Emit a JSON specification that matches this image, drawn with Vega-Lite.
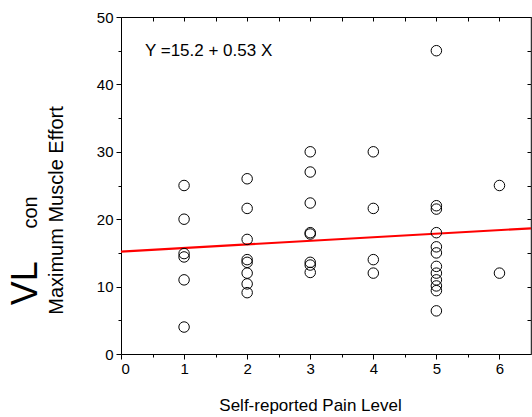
{
  "$schema": "https://vega.github.io/schema/vega-lite/v6.json",
  "width": 410,
  "height": 337,
  "autosize": {"type": "none"},
  "padding": {"left": 121, "top": 17, "right": 1, "bottom": 63},
  "background": "white",
  "config": {
    "view": {"stroke": null},
    "font": "Liberation Sans",
    "axis": {
      "labelFont": "Liberation Sans",
      "titleFont": "Liberation Sans",
      "labelColor": "black",
      "titleColor": "black",
      "domainColor": "black",
      "tickColor": "black",
      "grid": false,
      "labelFontSize": 15,
      "titleFontSize": 17,
      "titleFontWeight": "normal"
    }
  },
  "datasets": {
    "pts": [
      {"pain": 1, "effort": 25.0}, {"pain": 1, "effort": 20.0}, {"pain": 1, "effort": 14.9}, {"pain": 1, "effort": 14.4}, {"pain": 1, "effort": 11.0}, {"pain": 1, "effort": 4.0},
      {"pain": 2, "effort": 26.0}, {"pain": 2, "effort": 21.6}, {"pain": 2, "effort": 17.0}, {"pain": 2, "effort": 14.0}, {"pain": 2, "effort": 13.6}, {"pain": 2, "effort": 12.0}, {"pain": 2, "effort": 10.4}, {"pain": 2, "effort": 9.1},
      {"pain": 3, "effort": 30.0}, {"pain": 3, "effort": 27.0}, {"pain": 3, "effort": 22.4}, {"pain": 3, "effort": 18.0}, {"pain": 3, "effort": 17.8}, {"pain": 3, "effort": 13.6}, {"pain": 3, "effort": 13.2}, {"pain": 3, "effort": 12.1},
      {"pain": 4, "effort": 30.0}, {"pain": 4, "effort": 21.6}, {"pain": 4, "effort": 14.0}, {"pain": 4, "effort": 12.0},
      {"pain": 5, "effort": 45.0}, {"pain": 5, "effort": 22.0}, {"pain": 5, "effort": 21.5}, {"pain": 5, "effort": 18.0}, {"pain": 5, "effort": 15.9}, {"pain": 5, "effort": 15.0}, {"pain": 5, "effort": 13.0}, {"pain": 5, "effort": 12.0}, {"pain": 5, "effort": 11.0}, {"pain": 5, "effort": 10.1}, {"pain": 5, "effort": 9.4}, {"pain": 5, "effort": 6.4},
      {"pain": 6, "effort": 25.0}, {"pain": 6, "effort": 12.0}
    ],
    "fit": [
      {"pain": 0, "effort": 15.2},
      {"pain": 6.5, "effort": 18.65}
    ],
    "eq": [{"pain": 0.38, "effort": 45, "label": "Y =15.2 + 0.53 X"}],
    "vl": [{"pain": -1.33, "effort": 10.5, "label": "VL"}],
    "con": [{"pain": -1.33, "effort": 21.0, "label": "con"}]
  },
  "resolve": {"axis": {"x": "independent", "y": "independent"}},
  "layer": [
    {
      "data": {"name": "fit"},
      "mark": {"type": "line", "color": "#ff0000", "strokeWidth": 2.2},
      "encoding": {
        "x": {"field": "pain", "type": "quantitative",
              "scale": {"domain": [0, 6.5], "nice": false, "zero": false},
              "axis": {"orient": "top", "values": [0, 0.5, 1, 1.5, 2, 2.5, 3, 3.5, 4, 4.5, 5, 5.5, 6, 6.5], "labels": false, "title": null, "tickSize": -4}},
        "y": {"field": "effort", "type": "quantitative",
              "scale": {"domain": [0, 50], "nice": false, "zero": false},
              "axis": {"orient": "right", "values": [0, 5, 10, 15, 20, 25, 30, 35, 40, 45, 50], "labels": false, "title": null, "tickSize": -4, "domainWidth": 1.5, "domainColor": "#333333"}}
      }
    },
    {
      "data": {"name": "pts"},
      "mark": {"type": "point", "shape": "circle", "filled": false, "stroke": "black", "strokeWidth": 1, "size": 110, "opacity": 1},
      "encoding": {
        "x": {"field": "pain", "type": "quantitative",
              "axis": {"orient": "bottom", "values": [0, 1, 2, 3, 4, 5, 6], "tickSize": 5, "labelPadding": 2,
                       "title": "Self-reported Pain Level", "titleX": 189, "titleY": 56, "titleBaseline": "alphabetic", "titleAlign": "center"}},
        "y": {"field": "effort", "type": "quantitative",
              "axis": {"orient": "left", "values": [0, 10, 20, 30, 40, 50], "tickSize": 5, "labelPadding": 3,
                       "title": "Maximum Muscle Effort", "titleFontSize": 20, "titleX": -59, "titleY": 193, "titleAngle": 270, "titleBaseline": "alphabetic", "titleAlign": "center"}}
      }
    },
    {
      "data": {"name": "eq"},
      "mark": {"type": "text", "align": "left", "baseline": "middle", "fontSize": 17, "font": "Liberation Sans", "color": "black"},
      "encoding": {
        "x": {"field": "pain", "type": "quantitative",
              "axis": {"orient": "bottom", "values": [0.5, 1.5, 2.5, 3.5, 4.5, 5.5], "labels": false, "domain": false, "title": null, "tickSize": 3}},
        "y": {"field": "effort", "type": "quantitative",
              "axis": {"orient": "left", "values": [5, 15, 25, 35, 45], "labels": false, "domain": false, "title": null, "tickSize": 3}},
        "text": {"field": "label"}
      }
    },
    {
      "data": {"name": "vl"},
      "mark": {"type": "text", "align": "center", "baseline": "alphabetic", "angle": 270, "fontSize": 36, "font": "Liberation Sans", "color": "black"},
      "encoding": {
        "x": {"field": "pain", "type": "quantitative", "axis": null},
        "y": {"field": "effort", "type": "quantitative", "axis": null},
        "text": {"field": "label"}
      }
    },
    {
      "data": {"name": "con"},
      "mark": {"type": "text", "align": "center", "baseline": "alphabetic", "angle": 270, "fontSize": 20, "font": "Liberation Sans", "color": "black"},
      "encoding": {
        "x": {"field": "pain", "type": "quantitative", "axis": null},
        "y": {"field": "effort", "type": "quantitative", "axis": null},
        "text": {"field": "label"}
      }
    }
  ]
}
